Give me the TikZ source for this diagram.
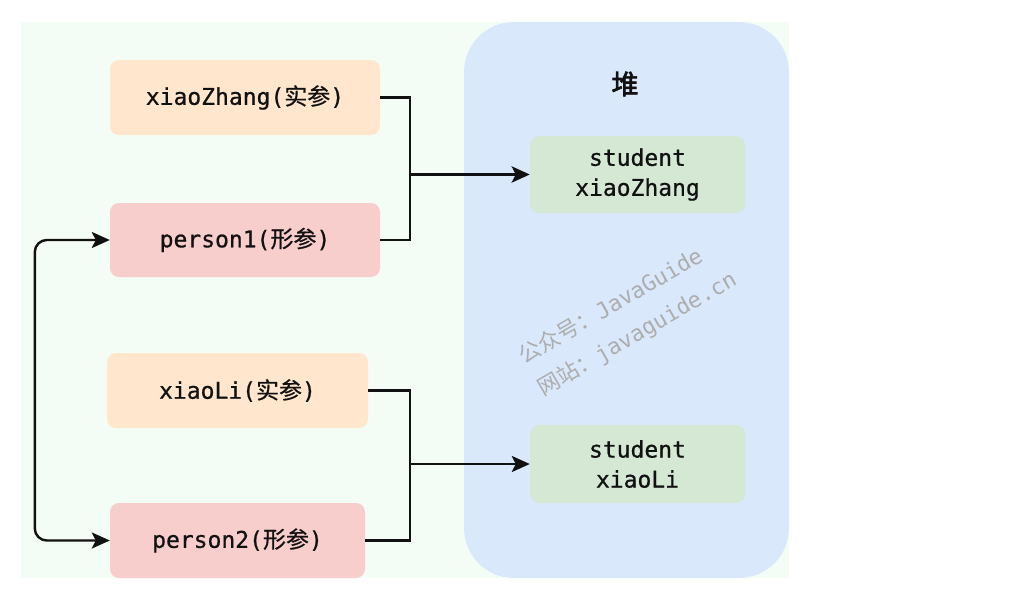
\documentclass[tikz,border=0pt]{standalone}
\usepackage{fontspec}
\setmonofont[FakeBold=0.7]{DejaVu Sans Mono}
\newfontfamily\cjk[FakeBold=0.7]{Noto Sans CJK SC}
\newfontfamily\cjkplain{Noto Sans CJK SC}
\newfontfamily\cjkb[FakeBold=2.5]{Noto Sans CJK SC}
\newfontfamily\markfont{DejaVu Sans Mono}
\usetikzlibrary{arrows.meta}
\definecolor{canvas}{HTML}{F4FDF5}
\definecolor{heapfill}{HTML}{DAE8FC}
\definecolor{argfill}{HTML}{FFE6CC}
\definecolor{parfill}{HTML}{F8CECC}
\definecolor{objfill}{HTML}{D5E8D4}
\definecolor{ink}{HTML}{111111}
\tikzset{
  box/.style={rectangle, rounded corners=9pt, draw=none, text=ink,
    font=\ttfamily\fontsize{23}{30}\selectfont, inner sep=0pt, align=center},
  argbox/.style={box, fill=argfill},
  parbox/.style={box, fill=parfill},
  objbox/.style={box, fill=objfill},
  wire/.style={draw=ink, line width=2.4pt},
  tip/.style={-{Stealth[length=18pt,width=16pt,inset=4pt]}},
}
\begin{document}
\begin{tikzpicture}[x=1pt,y=-1pt]
\useasboundingbox (0,0) rectangle (1033,610);
% background panel and heap area
\fill[canvas] (21,22) rectangle (789,578);
\fill[heapfill, rounded corners=50pt] (464,22) rectangle (789,578);
\node[text=ink, font=\cjkb\fontsize{27}{30}\selectfont] (heap) at (625,84) {堆};

% stack variables
\node[argbox, minimum width=270pt, minimum height=75pt] (xz) at (245,97.5) {xiaoZhang({\cjk 实参})};
\node[parbox, minimum width=270pt, minimum height=74pt] (p1) at (245,240) {person1({\cjk 形参})};
\node[argbox, minimum width=261pt, minimum height=75pt] (xl) at (237.5,390.5) {xiaoLi({\cjk 实参})};
\node[parbox, minimum width=255pt, minimum height=75pt] (p2) at (237.5,540.5) {person2({\cjk 形参})};

% heap objects
\node[objbox, minimum width=215pt, minimum height=77pt] (s1) at (637.5,174.5) {student\\xiaoZhang};
\node[objbox, minimum width=215pt, minimum height=78pt] (s2) at (637.5,464) {student\\xiaoLi};

% watermark
\node[rotate=30, align=left, text=black!32, font=\fontsize{22}{37}\selectfont] (wm) at (628,318)
  {{\cjkplain 公众号：}\markfont JavaGuide\\{\cjkplain 网站：}\markfont javaguide.cn};

% junctions
\coordinate (j1) at (410,174.5);
\coordinate (j2) at (410,464);

% references to the objects
\draw[wire] (xz.east) -| (j1);
\draw[wire] (p1.east) -| (j1);
\draw[wire, line width=3.4pt, tip] (j1) -- (s1.west);
\draw[wire] (xl.east) -| (j2);
\draw[wire] (p2.east) -| (j2);
\draw[wire, line width=2.8pt, tip] (j2) -- (s2.west);

% link between the two parameters
\draw[wire, rounded corners=12pt, {Stealth[length=18pt,width=16pt,inset=4pt]}-{Stealth[length=18pt,width=16pt,inset=4pt]}]
  (p1.west) -- ++(-75,0) |- (p2.west);
\end{tikzpicture}
\end{document}
